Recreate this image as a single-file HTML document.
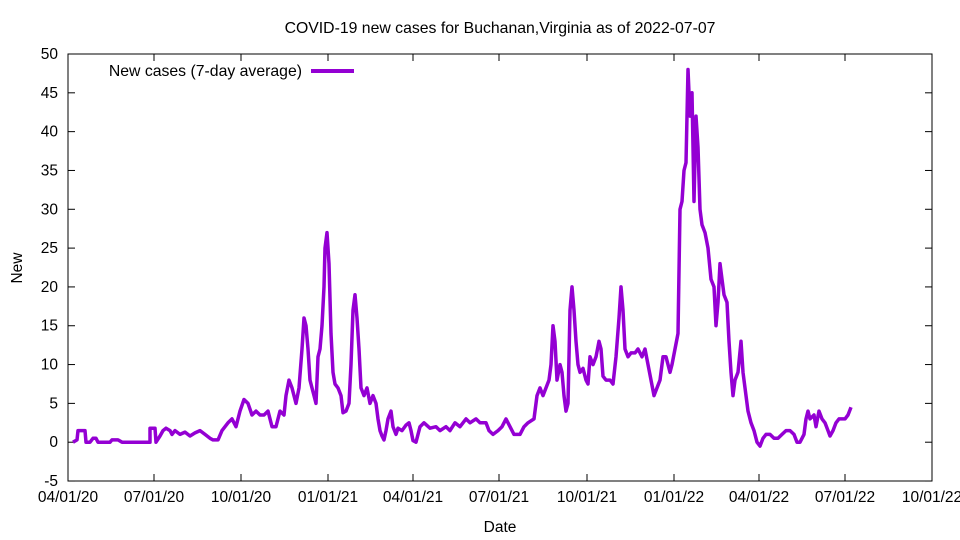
<!DOCTYPE html>
<html><head><meta charset="utf-8"><style>
body{margin:0;background:#fff}
svg{display:block;font-family:"Liberation Sans",sans-serif}
</style></head><body>
<svg id="s" width="960" height="540" viewBox="0 0 960 540">
<rect width="960" height="540" fill="#fff"/>
<text x="500" y="33" font-size="15.8" text-anchor="middle">COVID-19 new cases for Buchanan,Virginia as of 2022-07-07</text>
<rect x="68" y="54" width="864" height="427" fill="none" stroke="#000" stroke-width="1"/>
<g id="ticks" stroke="#000" stroke-width="1"></g>
<g id="labels" font-size="15.5"></g>
<text x="500" y="532" font-size="15.5" text-anchor="middle">Date</text>
<text x="22" y="268" font-size="15.5" text-anchor="middle" transform="rotate(-90 22 268)">New</text>
<text x="302" y="76" font-size="15.8" text-anchor="end">New cases (7-day average)</text>
<line x1="311" y1="71" x2="354" y2="71" stroke="#9400d3" stroke-width="4"/>
<polyline id="p" fill="none" stroke="#9400d3" stroke-width="3.5" stroke-linejoin="round"/>
</svg>
<script>
var Y=function(v){return 442.2-v*7.764;};
var t=document.getElementById('ticks'),l=document.getElementById('labels'),h='',lh='';
for(var v=-5;v<=50;v+=5){var y=Y(v);h+='<line x1="68" y1="'+y+'" x2="75" y2="'+y+'"/><line x1="925" y1="'+y+'" x2="932" y2="'+y+'"/>';lh+='<text x="58" y="'+(y+5)+'" text-anchor="end">'+v+'</text>';}
var xs=[68,154,241,328,413,499,587,674,759,845,932],lb=['04/01/20','07/01/20','10/01/20','01/01/21','04/01/21','07/01/21','10/01/21','01/01/22','04/01/22','07/01/22','10/01/22'];
for(var i=0;i<xs.length;i++){h+='<line x1="'+xs[i]+'" y1="481" x2="'+xs[i]+'" y2="474"/><line x1="'+xs[i]+'" y1="54" x2="'+xs[i]+'" y2="61"/>';lh+='<text x="'+xs[i]+'" y="502" text-anchor="middle">'+lb[i]+'</text>';}
t.innerHTML=h;l.innerHTML=lh;
var d=[73,0,77,0.3,78,1.5,85,1.5,86,0,90,0,93,0.5,96,0.5,98,0,110,0,112,0.3,118,0.3,122,0,150,0,150,1.8,155,1.8,156,0,160,0.8,163,1.5,166,1.8,170,1.5,172,1,175,1.5,180,1,185,1.3,190,0.8,195,1.2,200,1.5,205,1.0,210,0.5,213,0.3,218,0.3,222,1.5,228,2.5,232,3,236,2,240,4,244,5.5,248,5,252,3.5,256,4,260,3.5,264,3.5,268,4,272,2,276,2,280,4,284,3.5,286,6,289,8,292,7,296,5,299,7,302,12,304,16,306,15,308,12,310,8,312,7,314,6,316,5,318,11,320,12,322,15,324,20,325,25,327,27,329,23,331,14,333,9,335,7.5,338,7,341,6,343,3.8,346,4,349,5,351,10,353,17,355,19,357,16,359,12,361,7,364,6,367,7,370,5,373,6,376,5,378,3,380,1.5,382,0.8,384,0.3,386,1.5,388,3,391,4,393,2,396,1,398,1.8,402,1.5,406,2.2,409,2.5,411,1.5,413,0.2,416,0,418,1,420,2,424,2.5,430,1.8,436,2,440,1.5,446,2,450,1.5,455,2.5,460,2,466,3,470,2.5,476,3,480,2.5,486,2.5,489,1.5,493,1,498,1.5,502,2,506,3,510,2,514,1,520,1,524,2,528,2.5,534,3,537,6,540,7,543,6,546,7,549,8,551,10,553,15,555,13,557,8,560,10,562,9,564,6,566,4,568,5,570,17,572,20,574,17,576,13,578,10,580,9,583,9.5,586,8,588,7.5,590,11,593,10,596,11,599,13,601,12,603,8.5,606,8,610,8,613,7.5,616,11,619,16,621,20,623,17,625,12,628,11,631,11.5,635,11.5,638,12,642,11,645,12,648,10,651,8,654,6,657,7,660,8,663,11,666,11,670,9,672,10,675,12,678,14,680,30,682,31,684,35,686,36,688,48,690,42,692,45,694,31,696,42,698,38,700,30,702,28,705,27,708,25,711,21,714,20,716,15,718,18,720,23,722,21,724,19,727,18,729,13,731,9,733,6,735,8,738,9,741,13,743,9,745,7,748,4,751,2.5,754,1.5,757,0,760,-0.5,763,0.5,766,1,770,1,774,0.5,778,0.5,782,1,786,1.5,790,1.5,794,1,797,0,800,0,804,1,806,3,808,4,810,3,814,3.5,816,2,819,4,822,3,825,2.5,828,1.5,830,0.8,833,1.5,836,2.5,839,3,842,3,845,3,848,3.5,851,4.5];
var pts=[];for(var i=0;i<d.length;i+=2)pts.push(d[i]+','+Y(d[i+1]).toFixed(1));
document.getElementById('p').setAttribute('points',pts.join(' '));
</script>
</body></html>
